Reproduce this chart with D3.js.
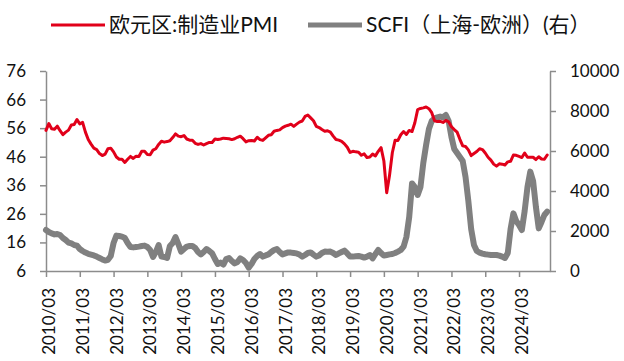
<!DOCTYPE html>
<html>
<head>
<meta charset="utf-8">
<script src="https://cdn.jsdelivr.net/npm/d3@7"></script>
<style>
  html, body { margin: 0; padding: 0; background: #fff; }
  svg { display: block; }
  text { font-family: Lato, "Noto Sans CJK SC", sans-serif; fill: #111; }
</style>
</head>
<body>
<svg id="chart" width="624" height="361"></svg>
<script>
// Monthly series, first point 2010/03
const startYear = 2010, startMonth = 3;

// Eurozone manufacturing PMI (left axis)
const pmi = [
  55.2, 57.6, 55.8, 55.6, 56.7, 55.1, 53.7, 54.6, 55.3, 57.1,
  57.3, 59.0, 57.5, 58.0, 54.6, 52.0, 50.4, 49.0, 48.5, 47.1, 46.4, 46.9,
  48.8, 49.0, 47.7, 45.9, 45.1, 45.1, 44.0, 45.1, 46.1, 45.4, 46.2, 46.1,
  47.9, 47.9, 46.8, 46.7, 48.3, 48.8, 50.3, 51.4, 51.1, 51.3, 51.6, 52.7,
  54.0, 53.2, 53.0, 53.4, 52.2, 51.8, 51.8, 50.7, 50.3, 50.6, 50.1, 50.6,
  51.0, 51.0, 52.2, 52.0, 52.2, 52.5, 52.4, 52.3, 52.0, 52.3, 52.8, 53.2,
  52.3, 51.2, 51.6, 51.7, 51.5, 52.8, 52.0, 51.7, 52.6, 53.5, 53.7, 54.9,
  55.2, 55.4, 56.2, 56.7, 57.0, 57.4, 56.6, 57.4, 58.1, 58.5, 60.1, 60.6,
  59.6, 58.6, 56.6, 56.2, 55.5, 54.9, 55.1, 54.6, 53.2, 52.0, 51.8, 51.4,
  50.5, 49.3, 47.5, 47.9, 47.7, 47.6, 46.5, 47.0, 45.7, 45.9, 46.9, 46.3,
  47.9, 49.2, 44.5, 33.4, 39.4, 47.4, 51.8, 51.7, 53.7, 54.8, 53.8, 55.2,
  54.8, 57.9, 62.5, 62.9, 63.1, 63.4, 62.8, 61.4, 58.6, 58.3, 58.4, 58.0,
  58.7, 58.2, 56.5, 55.5, 54.6, 52.1, 49.8, 49.6, 48.4, 46.4, 47.1, 47.8,
  48.8, 48.5, 47.3, 45.8, 44.8, 43.4, 42.7, 43.5, 43.4, 43.1, 44.2, 44.4,
  46.6, 46.5, 46.1, 45.7, 47.3, 45.8, 45.8, 45.8, 45.0, 46.0, 45.2, 45.1,
  46.6
];

// SCFI Shanghai-Europe, USD/TEU (right axis)
const scfi = [
  2050, 1950, 1880, 1830, 1850, 1800, 1650, 1550, 1420, 1380,
  1300, 1270, 1100, 1000, 920, 860, 820, 780, 720, 650, 580, 520,
  560, 750, 1400, 1770, 1750, 1720, 1650, 1400, 1200, 1180, 1200, 1220,
  1250, 1270, 1200, 1050, 700, 950, 1300, 720, 700, 650, 1250, 1400,
  1700, 1350, 970, 1100, 1220, 1250, 1250, 1150, 950, 830, 950, 1100,
  1000, 880, 600, 350, 420, 320, 600, 650, 500, 380, 450, 630,
  550, 400, 170, 350, 600, 750, 850, 720, 780, 830, 950, 1050,
  1100, 950, 830, 880, 930, 920, 900, 880, 820, 720, 800, 900,
  930, 820, 720, 780, 900, 970, 960, 970, 900, 800, 880, 950,
  1020, 880, 720, 720, 740, 750, 720, 670, 720, 800, 630, 850,
  1050, 900, 770, 800, 830, 850, 900, 970, 1050, 1220, 1700, 2700,
  4380, 4200, 3800, 4200, 5400, 6300, 7100, 7500, 7630, 7680, 7720, 7690,
  7800, 7500, 6700, 6100, 5900, 5700, 5500, 4700, 3500, 2100, 1300, 1000,
  920, 870, 840, 820, 800, 800, 800, 770, 720, 650, 900, 2100,
  2880, 2500, 2300, 2050, 3000, 4200, 4970, 4500, 3200, 2130, 2450, 2800,
  2970
];

const leftTicks = [6, 16, 26, 36, 46, 56, 66, 76];
const rightTicks = [0, 2000, 4000, 6000, 8000, 10000];
const xTickLabels = ["2010/03", "2011/03", "2012/03", "2013/03", "2014/03",
  "2015/03", "2016/03", "2017/03", "2018/03", "2019/03", "2020/03",
  "2021/03", "2022/03", "2023/03", "2024/03"];

const seriesNames = ["欧元区:制造业PMI", "SCFI（上海-欧洲）(右）"];
const colors = { pmi: "#E1001A", scfi: "#808080", axis: "#8C8C8C" };

const svg = d3.select("#chart");
const plot = { left: 46, right: 550, top: 71, bottom: 271 };

const x = d3.scaleLinear().domain([0, pmi.length]).range([plot.left, plot.right]);
const yL = d3.scaleLinear().domain([6, 76]).range([plot.bottom, plot.top]);
const yR = d3.scaleLinear().domain([0, 10000]).range([plot.bottom, plot.top]);

function styleAxis(g) {
  g.select(".domain").attr("stroke", colors.axis).attr("stroke-width", 1.5);
  g.selectAll(".tick line").attr("stroke", colors.axis).attr("stroke-width", 1.5);
  g.selectAll(".tick text").attr("fill", "#111").style("font-size", "17px")
    .style("font-family", "Lato, sans-serif");
}

// left axis
svg.append("g")
  .attr("transform", `translate(${plot.left},0)`)
  .call(d3.axisLeft(yL).tickValues(leftTicks).tickSize(6).tickSizeOuter(0).tickPadding(14))
  .call(styleAxis);

// right axis, plain integers
svg.append("g")
  .attr("transform", `translate(${plot.right},0)`)
  .call(d3.axisRight(yR).tickValues(rightTicks).tickFormat(d3.format("d"))
    .tickSize(6).tickSizeOuter(0).tickPadding(14))
  .call(styleAxis);

// bottom axis, yearly ticks with rotated labels
const xTickIdx = xTickLabels.map((_, i) => i * 12);
const xAxisG = svg.append("g")
  .attr("transform", `translate(0,${plot.bottom})`)
  .call(d3.axisBottom(x).tickValues(xTickIdx)
    .tickFormat((d, i) => xTickLabels[i]).tickSize(6).tickSizeOuter(0))
  .call(styleAxis);
xAxisG.selectAll(".tick text")
  .attr("transform", "rotate(-90)")
  .attr("text-anchor", "end")
  .attr("x", -17)
  .attr("y", 0)
  .attr("dy", "0.5em");

// lines
const lineL = d3.line().x((d, i) => x(i)).y(d => yL(d));
const lineR = d3.line().x((d, i) => x(i)).y(d => yR(d));

svg.append("path").datum(scfi)
  .attr("d", lineR).attr("fill", "none")
  .attr("stroke", colors.scfi).attr("stroke-width", 6)
  .attr("stroke-linejoin", "round").attr("stroke-linecap", "round");

svg.append("path").datum(pmi)
  .attr("d", lineL).attr("fill", "none")
  .attr("stroke", colors.pmi).attr("stroke-width", 3)
  .attr("stroke-linejoin", "round").attr("stroke-linecap", "round");

// legend
const legend = [
  { name: seriesNames[0], color: colors.pmi, width: 3, x0: 51 },
  { name: seriesNames[1], color: colors.scfi, width: 5, x0: 308 }
];
const lg = svg.append("g");
legend.forEach(l => {
  lg.append("line")
    .attr("x1", l.x0).attr("x2", l.x0 + 54)
    .attr("y1", 25).attr("y2", 25)
    .attr("stroke", l.color).attr("stroke-width", l.width);
  lg.append("text")
    .attr("x", l.x0 + 58).attr("y", 23)
    .attr("dominant-baseline", "central")
    .style("font-size", "21px")
    .text(l.name);
});
</script>
</body>
</html>
